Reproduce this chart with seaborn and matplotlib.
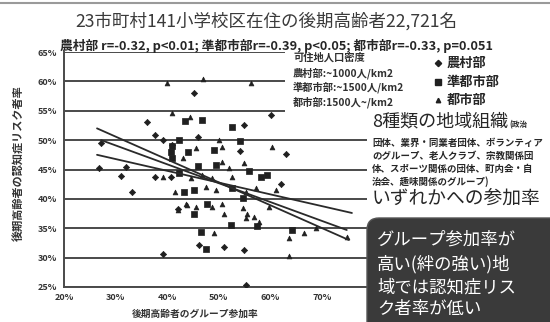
import matplotlib
matplotlib.use("Agg")
import matplotlib.pyplot as plt
import seaborn as sns
import pandas as pd
from matplotlib.patches import Rectangle, FancyBboxPatch
from matplotlib.lines import Line2D
from matplotlib.ticker import FuncFormatter

# ---------------- data ----------------
rural_x = [27.1, 26.8, 31.0, 32.0, 33.1, 36.1, 37.6, 37.6, 39.1, 40.7, 42.1, 45.2,
           46.2, 51.0, 54.9, 54.9, 54.2, 55.2, 60.1, 62.0, 63.0, 41.0, 39.1, 46.0]
rural_y = [49.5, 45.2, 43.9, 45.4, 41.2, 53.1, 50.8, 43.8, 30.6, 43.8, 38.3, 58.1,
           32.1, 31.8, 31.3, 52.5, 48.2, 25.3, 54.3, 42.5, 47.6, 49.2, 50.0, 50.5]

semi_x = [43.4, 46.8, 52.5, 42.3, 54.2, 41.0, 44.1, 49.1, 41.0, 46.0, 49.4, 55.9,
          42.3, 58.1, 45.2, 54.6, 45.2, 47.8, 52.3, 57.5, 46.5, 64.2, 47.5, 40.7,
          59.4, 52.6, 43.3]
semi_y = [53.3, 53.5, 52.3, 50.0, 49.9, 49.0, 48.0, 48.4, 46.9, 45.6, 45.8, 44.7,
          44.4, 43.7, 41.5, 40.1, 37.5, 39.1, 35.6, 35.3, 34.4, 34.7, 31.5, 48.0,
          44.1, 41.8, 41.2]

urban_x = [40.0, 46.9, 56.2, 40.9, 44.4, 50.0, 45.5, 50.7, 60.4, 43.1, 50.7, 52.0,
           54.9, 44.6, 46.8, 48.7, 52.6, 61.0, 41.6, 47.5, 49.4, 55.2, 57.2, 43.6,
           45.5, 48.7, 50.7, 51.0, 54.6, 55.5, 56.8, 55.2, 57.8, 59.7, 49.1, 66.5,
           63.6, 63.6, 74.8, 68.8, 43.9, 42.0, 39.1]
urban_y = [59.8, 60.4, 59.7, 54.7, 53.9, 50.0, 48.6, 48.8, 48.8, 46.9, 46.3, 45.2,
           46.1, 43.5, 44.1, 43.5, 43.8, 41.5, 41.2, 42.1, 41.5, 41.2, 41.8, 39.1,
           38.7, 38.7, 39.1, 37.5, 38.4, 37.5, 37.0, 36.7, 36.1, 38.7, 34.2, 34.2,
           33.3, 30.2, 33.5, 35.0, 39.0, 38.1, 43.8]

# fitted trend lines (start / end)
trend_names = ["都市部", "準都市部", "農村部"]
trend_x = [[26.4, 75.2], [27.2, 74.8], [26.4, 75.8]]
trend_y = [[52.0, 33.0], [50.0, 34.7], [47.5, 37.6]]

region_names = ["農村部", "準都市部", "都市部"]
x_ticks = [20, 30, 40, 50, 60, 70]
y_ticks = [25, 30, 35, 40, 45, 50, 55, 60, 65]

title = "23市町村141小学校区在住の後期高齢者22,721名"
subtitle = "農村部 r=-0.32, p<0.01; 準都市部r=-0.39, p<0.05; 都市部r=-0.33, p=0.051"
x_label = "後期高齢者のグループ参加率"
y_label = "後期高齢者の認知症リスク者率"
density_lines = ["可住地人口密度", "農村部:~1000人/km2", "準都市部:~1500人/km2", "都市部:1500人~/km2"]
org_title = "8種類の地域組織"
org_small = "(政治"
org_lines = ["団体、業界・同業者団体、ボランティア",
             "のグループ、老人クラブ、宗教関係団",
             "体、スポーツ関係の団体、町内会・自",
             "治会、趣味関係のグループ)"]
org_tail = "いずれかへの参加率"
box_lines = ["グループ参加率が", "高い(絆の強い)地", "域では認知症リス", "ク者率が低い"]

# ---------------- figure ----------------
sns.set_theme(style="white")
plt.rcParams["font.family"] = ["Noto Sans CJK JP", "DejaVu Sans"]

W, H = 550, 322
fig = plt.figure(figsize=(W / 100, H / 100), dpi=100)
fig.patch.set_facecolor("white")

def fx(px):
    return px / W

def fy(py):
    return 1 - py / H

ax_l, ax_r, ax_t, ax_b = 64, 367, 52, 287
ax = fig.add_axes([fx(ax_l), fy(ax_b), (ax_r - ax_l) / W, (ax_b - ax_t) / H])

df = pd.concat([
    pd.DataFrame({"x": rural_x, "y": rural_y, "region": region_names[0]}),
    pd.DataFrame({"x": semi_x, "y": semi_y, "region": region_names[1]}),
    pd.DataFrame({"x": urban_x, "y": urban_y, "region": region_names[2]}),
], ignore_index=True)

markers = {"農村部": "D", "準都市部": "s", "都市部": "^"}
sizes_map = {"農村部": 10, "準都市部": 18, "都市部": 12}
for name in region_names:
    sub = df[df["region"] == name]
    sns.scatterplot(data=sub, x="x", y="y", marker=markers[name], s=sizes_map[name],
                    color="#202020", edgecolor="#202020", linewidth=0.5,
                    ax=ax, legend=False, zorder=3)

tdf = pd.concat([pd.DataFrame({"x": tx, "y": ty, "line": n})
                 for n, tx, ty in zip(trend_names, trend_x, trend_y)], ignore_index=True)
sns.lineplot(data=tdf, x="x", y="y", units="line", estimator=None, color="#2a2a2a",
             lw=1.3, ax=ax, legend=False, zorder=4)

ax.set_xlim(20, 20 + (ax_r - ax_l) / 5.16)
ax.set_ylim(25, 65)
ax.set_xticks(x_ticks)
ax.set_yticks(y_ticks)
fmt = FuncFormatter(lambda v, p: f"{int(round(v))}%")
ax.xaxis.set_major_formatter(fmt)
ax.yaxis.set_major_formatter(fmt)
ax.grid(axis="y", color="#4a4a4a", lw=1.4)
ax.grid(axis="x", visible=False)
for s in ["top", "right"]:
    ax.spines[s].set_visible(False)
for s in ["left", "bottom"]:
    ax.spines[s].set_color("#4a4a4a")
    ax.spines[s].set_linewidth(1.4)
ax.tick_params(axis="both", labelsize=6.5, colors="#333333", length=0, pad=4)
ax.tick_params(axis="y", length=2, width=0.8, direction="out", pad=3)
for lab in ax.get_xticklabels() + ax.get_yticklabels():
    lab.set_fontweight("bold")
ax.set_xlabel("")
ax.set_ylabel("")

# white legend background covering grid on upper-right
fig.add_artist(Rectangle((fx(285), fy(126)), fx(367 - 285), (126 - 48) / H,
                         transform=fig.transFigure, facecolor="white", edgecolor="none", zorder=2))

# top scan border line
fig.add_artist(Line2D([0, 1], [fy(3), fy(3)], transform=fig.transFigure, color="#9a9a9a", lw=1.5))

# titles
fig.text(fx(266), fy(21), title, ha="center", va="center", fontsize=12.6, color="#3a3a3a", zorder=5)
fig.text(fx(60), fy(46), subtitle, ha="left", va="center", fontsize=9.2, fontweight="bold",
         color="#262626", zorder=5)

# axis labels
fig.text(fx(195), fy(309), x_label, ha="center", va="top", fontsize=7, fontweight="bold", color="#333333")
fig.text(fx(19), fy(163), y_label, ha="center", va="center", rotation=90, fontsize=8,
         fontweight="bold", color="#333333")

# density legend
for i, (t, py) in enumerate(zip(density_lines, [58, 73, 87, 102])):
    fig.text(fx(293), fy(py), t, ha="left", va="center", fontsize=7.4, fontweight="bold",
             color="#303030", zorder=5)

# marker legend
for name, py in zip(region_names, [63, 82, 100]):
    fig.add_artist(Line2D([fx(438)], [fy(py)], transform=fig.transFigure, marker=markers[name],
                          markersize=3.2 if name != "準都市部" else 3.8, color="#202020", lw=0, zorder=5))
    fig.text(fx(447), fy(py), name, ha="left", va="center", fontsize=9.5, fontweight="bold",
             color="#262626", zorder=5)

# organisation text
t1 = fig.text(fx(372), fy(122), org_title, ha="left", va="center", fontsize=13, color="#262626", zorder=5)
fig.canvas.draw()
bb = t1.get_window_extent(fig.canvas.get_renderer())
fig.text(bb.x1 / W + 0.003, fy(125), org_small, ha="left", va="center", fontsize=5.5,
         fontweight="bold", color="#262626", zorder=5)
for t, py in zip(org_lines, [143, 156, 169, 182]):
    fig.text(fx(372), fy(py), t, ha="left", va="center", fontsize=6.8, fontweight="bold",
             color="#262626", zorder=5)
fig.text(fx(372), fy(198), org_tail, ha="left", va="center", fontsize=13.5, color="#262626", zorder=5)

# dark callout box
fig.add_artist(FancyBboxPatch((3.67, -0.2), 2.2, (322 - 218) / 100 + 0.2,
                              boxstyle="round,pad=0,rounding_size=0.12",
                              transform=fig.dpi_scale_trans, facecolor="#3a3a3a",
                              edgecolor="#555555", lw=1, zorder=6))
for t, py in zip(box_lines, [240, 264, 287, 309]):
    fig.text(fx(377), fy(py), t, ha="left", va="center", fontsize=12.5, color="white", zorder=7)

fig.savefig("out.png", dpi=100, facecolor="white")
